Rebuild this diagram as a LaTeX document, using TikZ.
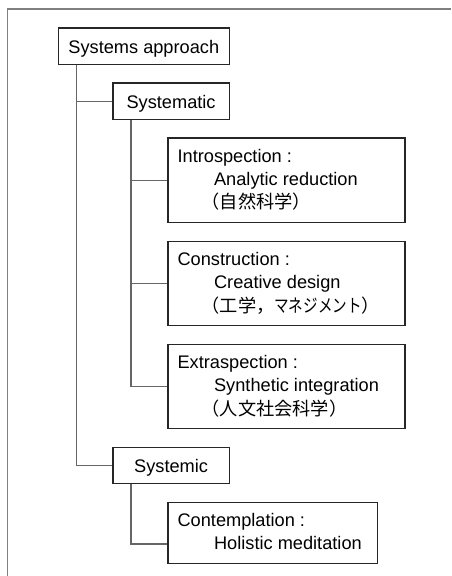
\documentclass[tikz,border=0pt]{standalone}
\usepackage{fontspec}
\setmainfont{Liberation Sans}
\newfontfamily\cjk{Noto Sans CJK JP}
\newfontfamily\cjkn[FakeStretch=0.8]{Noto Sans CJK JP}
\definecolor{boxcol}{gray}{0.15}
\definecolor{conncol}{gray}{0.4}
\definecolor{framecol}{gray}{0.5}
\newcommand\mlbox[3]{\begin{minipage}[t][#2][t]{#1}\raggedright\rule{0pt}{24.2pt}\hspace*{9.7pt}#3\end{minipage}}
\newcommand\indA{\hspace*{46.2pt}}
\newcommand\indJ{\hspace*{33.7pt}}
\begin{document}
\begin{tikzpicture}[x=1pt,y=-1pt,
  every node/.style={font=\fontsize{18.2pt}{23.4pt}\selectfont},
  box/.style={draw=boxcol, line width=1.2pt, inner sep=0pt, anchor=north west},
  sbox/.style={box, align=center, text height=13.5pt, text depth=0pt},
  conn/.style={draw=conncol, line width=1.2pt},
  frame/.style={draw=framecol, line width=1.8pt}]
\useasboundingbox (0,0) rectangle (451,576);
\draw[frame] (7.5,576) -- (7.5,9) -- (451,9);
\node[sbox, minimum width=171pt, minimum height=36.7pt] (sa) at (57.7,27.3) {Systems approach};
\node[sbox, minimum width=116.4pt, minimum height=36.7pt] (sm) at (112.3,82.3) {Systematic};
\node[box] (intro) at (167.3,137.3) {\mlbox{237pt}{84.7pt}{Introspection :\\\indA Analytic reduction\\\indJ{\cjk （自然科学）}}};
\node[box] (constr) at (167.3,240.7) {\mlbox{237pt}{84.3pt}{Construction :\\\indA Creative design\\\indJ{\cjk （工学，}{\cjkn マネジメント}{\cjk ）}}};
\node[box] (extra) at (167.3,343.7) {\mlbox{237pt}{84.3pt}{Extraspection :\\\indA Synthetic integration\\\indJ{\cjk （人文社会科学）}}};
\node[sbox, minimum width=116.4pt, minimum height=36.3pt] (sc) at (112.3,446.7) {Systemic};
\node[box] (cont) at (167.3,501.7) {\mlbox{209.7pt}{61pt}{Contemplation :\\\indA Holistic meditation}};
\coordinate (t1) at ([xshift=19pt]sa.south west);
\draw[conn] (t1) |- (sc.west);
\draw[conn] (t1 |- sm.west) -- (sm.west);
\coordinate (t2) at ([xshift=18.7pt]sm.south west);
\draw[conn] (t2) |- (extra.west);
\draw[conn] (t2 |- intro.west) -- (intro.west);
\draw[conn] (t2 |- constr.west) -- (constr.west);
\coordinate (t3) at ([xshift=18.7pt]sc.south west);
\coordinate (cj) at ([yshift=-42.3pt]cont.north west);
\draw[conn] (t3) |- (cj);
\end{tikzpicture}
\end{document}
